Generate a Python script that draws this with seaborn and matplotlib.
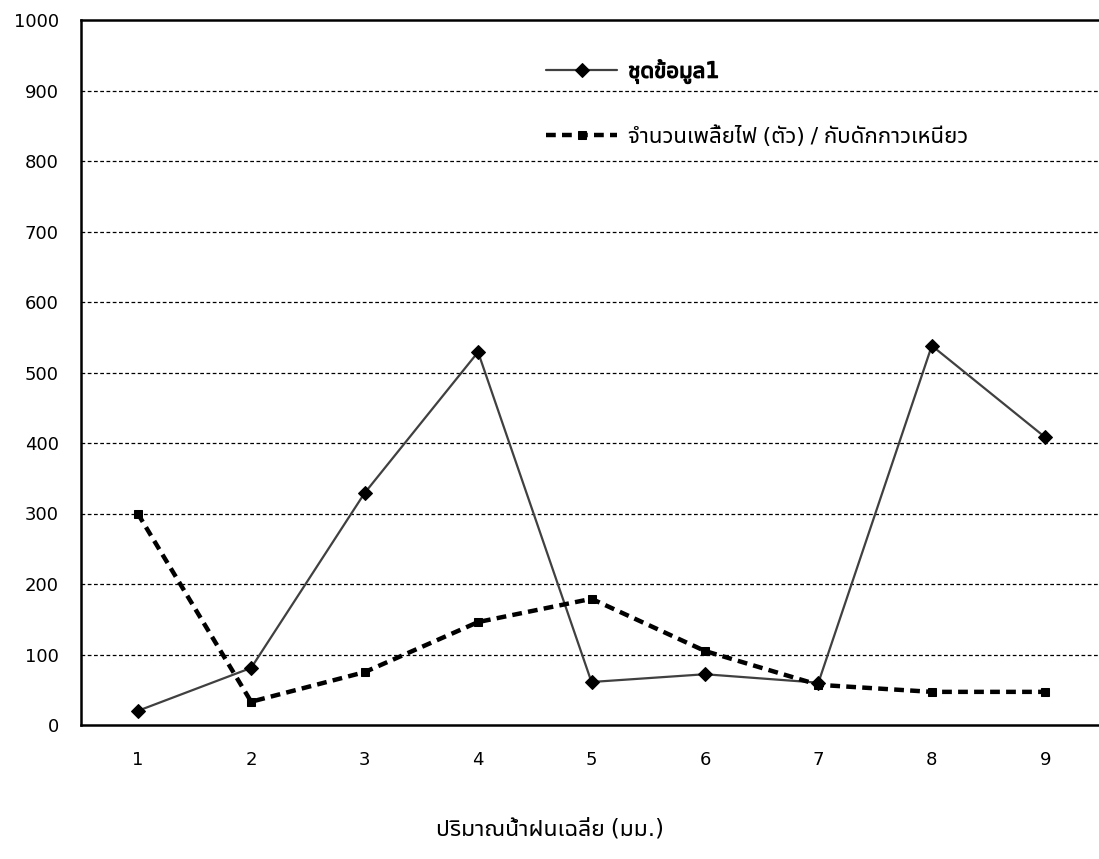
import numpy as np
import pandas as pd
import matplotlib
matplotlib.use("Agg")
import matplotlib.pyplot as plt
import matplotlib.patheffects as pe
import seaborn as sns

# ---- data ----
x_cats = [1, 2, 3, 4, 5, 6, 7, 8, 9]
series1 = [20, 81, 329, 529, 61, 72, 60, 538, 408]
series2 = [300, 33, 75, 146, 179, 105, 57, 47, 47]
name1 = "ชุดข้อมูล1"
name2 = "จำนวนเพลี้ยไฟ (ตัว) / กับดักกาวเหนียว"
xlabel = "ปริมาณน้ำฝนเฉลี่ย (มม.)"
yticks = [0, 100, 200, 300, 400, 500, 600, 700, 800, 900, 1000]

sns.set_theme(style="white")
plt.rcParams['font.family'] = ["Noto Sans Thai UI", "DejaVu Sans"]

df = pd.DataFrame({
    "x": x_cats * 2,
    "y": series1 + series2,
    "s": [name1] * len(x_cats) + [name2] * len(x_cats),
})

fig = plt.figure(figsize=(10.99, 8.59), dpi=100)
ax = fig.add_axes([81 / 1099, 134 / 859, 1021 / 1099, 705 / 859])

for yv in yticks[1:-1]:
    ax.axhline(yv, color="black", lw=0.9, ls=(0, (3, 2)), zorder=0)

sns.lineplot(data=df[df.s == name1], x="x", y="y", ax=ax, color="#404040",
             lw=1.6, marker="D", markersize=7, markerfacecolor="black",
             markeredgecolor="black", label=name1, zorder=3)
sns.lineplot(data=df[df.s == name2], x="x", y="y", ax=ax, color="black",
             lw=3.2, ls=(0, (2.2, 1.4)), marker="s", markersize=6,
             markerfacecolor="black", markeredgecolor="black",
             label=name2, zorder=4)

ax.set_xlim(0.5, 9.5)
ax.set_ylim(0, 1000)
ax.set_xticks(x_cats)
ax.set_xticklabels([str(v) for v in x_cats], family="DejaVu Sans")
ax.set_yticks(yticks)
ax.set_yticklabels([str(v) for v in yticks], family="DejaVu Sans")
ax.tick_params(axis="both", length=0, labelsize=13, colors="black")
ax.tick_params(axis="x", pad=19)
ax.tick_params(axis="y", pad=16)
ax.set_xlabel(xlabel, fontsize=16.5, color="black")
ax.xaxis.set_label_coords((550 - 81) / 1021, (725 - 817) / 705)
ax.set_ylabel("")

for side in ["left", "bottom", "top"]:
    ax.spines[side].set_visible(True)
    ax.spines[side].set_color("black")
    ax.spines[side].set_linewidth(1.8)
ax.spines["right"].set_visible(False)

leg = ax.legend(loc="upper left", bbox_to_anchor=((526 - 81) / 1021, 1 - 19 / 705),
                frameon=False, fontsize=16, handlelength=3.2, labelspacing=1.87,
                handletextpad=0.5)
for t in leg.get_texts():
    t.set_color("black")
t0 = leg.get_texts()[0]
t0.set_path_effects([pe.withStroke(linewidth=0.9, foreground="black")])

fig.savefig("out.png", dpi=100)
